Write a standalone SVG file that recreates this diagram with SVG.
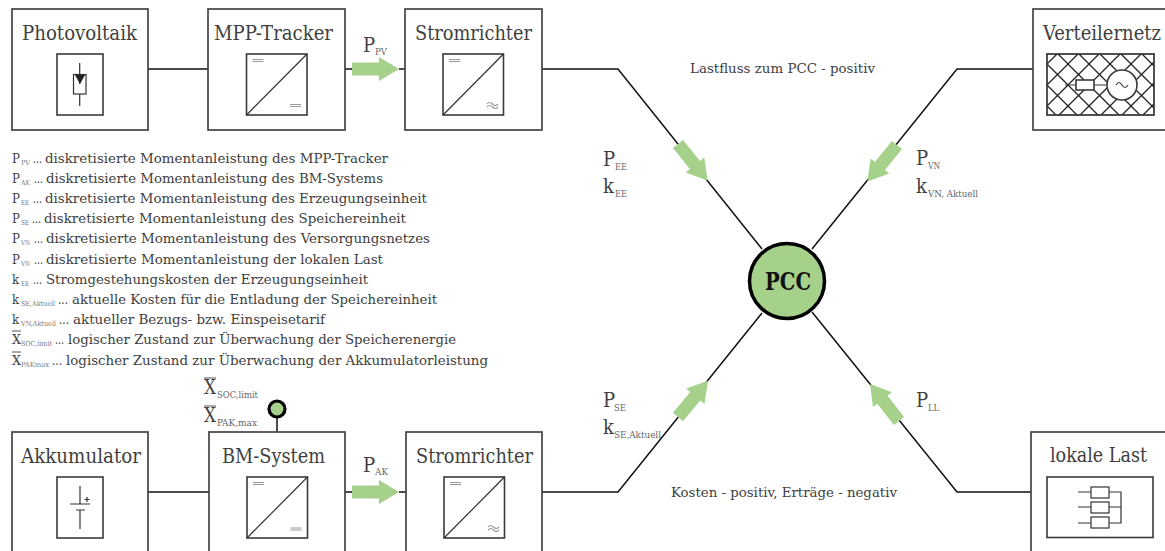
<svg xmlns="http://www.w3.org/2000/svg" width="1165" height="551" viewBox="0 0 1165 551">
<style>
text{font-family:"DejaVu Serif Condensed","DejaVu Serif","Liberation Serif",serif;fill:#404040}
.t{font-size:19.5px}
.l{font-size:13px}
.s{font-size:7px;fill:#777}
.v{font-size:20px}
.vs{font-size:10px;fill:#666}
.box{fill:#fff;stroke:#444;stroke-width:1.7}
.ic{fill:#fff;stroke:#3a3a3a;stroke-width:1.6}
.w{fill:none;stroke:#111;stroke-width:1.5}
.g{fill:none;stroke:#333;stroke-width:1.2}
.a{fill:#a5d18b}
.o{fill:none;stroke:#999;stroke-width:1.2}
.b{stroke:#555;stroke-width:1;fill:none}
</style>
<defs>
<pattern id="hatch" width="21" height="21" patternUnits="userSpaceOnUse" x="-3" y="1">
<path d="M0 0L21 21M21 0L0 21" stroke="#222" stroke-width="1.3"/>
</pattern>
<g id="conv"><rect class="ic" width="60.500" height="61"/><path class="g" d="M0 61L60.500 0" stroke-width="1.500"/><path class="o" d="M6 5.500h11M6 7.500h11"/></g>
<path id="dcb" class="o" d="M0 0h11M0 2h11"/>
<path id="acb" class="o" d="M0 0q2.700 -3 5.500 0t5.500 0M0 3q2.700 -3 5.500 0t5.500 0"/>
<path id="arr" class="a" d="M0 -6.500H27V-12L47 0L27 12V6.500H0Z"/>
</defs>
<g id="connectors">
<path class="w" d="M148 69H208M345 69H352M399 69H405M148 492H209M345 492H352M399 492H406"/>
<path class="w" d="M542 69H618L762 249M1033 69H957L812 249M542 492H618L762 313M1033 492H957L812 312"/>
<path class="w" d="M277 417V432"/>
</g>
<g id="arrows">
<use href="#arr" transform="translate(352 69)"/>
<use href="#arr" transform="translate(352 492)"/>
<use href="#arr" transform="translate(678 144) rotate(51.100)"/>
<use href="#arr" transform="translate(897 145) rotate(129)"/>
<use href="#arr" transform="translate(678 417) rotate(-50.300)"/>
<use href="#arr" transform="translate(899 421) rotate(-127.900)"/>
</g>
<g id="photovoltaik"><rect class="box" x="12" y="9" width="136" height="121"/><text class="t" x="22" y="39.500" textLength="115" lengthAdjust="spacingAndGlyphs">Photovoltaik</text>
<rect class="ic" x="57" y="54" width="46" height="61"/><rect class="g" x="73.500" y="74.500" width="12.500" height="19.500"/><path class="g" d="M79.700 63V84M79.700 94V106"/><path d="M75 75H85L80 84Z" fill="#222"/></g>
<g id="mpp"><rect class="box" x="208" y="9" width="137" height="121"/><text class="t" x="214" y="39.500" textLength="119" lengthAdjust="spacingAndGlyphs">MPP-Tracker</text><use href="#conv" x="246.500" y="54"/><use href="#dcb" x="290" y="104.500"/></g>
<g id="sr1"><rect class="box" x="405" y="9" width="137" height="121"/><text class="t" x="415" y="40" textLength="117" lengthAdjust="spacingAndGlyphs">Stromrichter</text><use href="#conv" x="443" y="54"/><use href="#acb" x="487" y="104"/></g>
<g id="verteilernetz"><rect class="box" x="1033" y="9" width="140" height="121"/><text class="t" x="1043" y="39.500" textLength="118" lengthAdjust="spacingAndGlyphs">Verteilernetz</text>
<rect x="1047" y="54" width="107" height="61" fill="url(#hatch)" stroke="#333" stroke-width="1.700"/><path class="g" d="M1065 85H1076M1094 85H1107"/><rect class="ic" x="1076" y="80" width="18" height="10"/><circle class="ic" cx="1122" cy="85" r="15"/><path class="g" stroke-width="1" d="M1116 85q3 -5 6 0t6 0"/></g>
<g id="akku"><rect class="box" x="12" y="432" width="136" height="125"/><text class="t" x="21" y="463" textLength="120" lengthAdjust="spacingAndGlyphs">Akkumulator</text>
<rect class="ic" x="57" y="477" width="46" height="61"/><path class="g" d="M80 486V504M70 504H90M76 510H85M80 510V529"/><path class="g" d="M84.500 499.500h5M87 497v5"/></g>
<g id="bm"><rect class="box" x="209" y="432" width="136" height="125"/><text class="t" x="222" y="463" textLength="103" lengthAdjust="spacingAndGlyphs">BM-System</text><use href="#conv" x="247" y="477"/><use href="#dcb" x="290.500" y="528"/></g>
<g id="sr2"><rect class="box" x="406" y="432" width="136" height="125"/><text class="t" x="416" y="463" textLength="117" lengthAdjust="spacingAndGlyphs">Stromrichter</text><use href="#conv" x="444" y="477"/><use href="#acb" x="488" y="527"/></g>
<g id="last"><rect class="box" x="1031" y="432" width="142" height="125"/><text class="t" x="1050" y="462" textLength="97" lengthAdjust="spacingAndGlyphs">lokale Last</text>
<rect class="ic" x="1047" y="477" width="106" height="60.500"/><rect class="g" x="1091" y="487" width="18" height="11"/><rect class="g" x="1091" y="502" width="18" height="11"/><rect class="g" x="1091" y="517" width="18" height="11"/><path class="g" d="M1078 492H1091M1078 507H1091M1078 523H1091M1109 492H1121V523H1109M1109 507H1121"/></g>
<g id="pcc"><circle cx="787" cy="281" r="37.500" fill="#a5d18b" stroke="#000" stroke-width="3.500"/><text x="765" y="290" font-size="25" font-weight="bold" style="fill:#111" textLength="46" lengthAdjust="spacingAndGlyphs">PCC</text></g>
<g id="status"><circle cx="277" cy="409" r="8" fill="#a5d18b" stroke="#000" stroke-width="3.200"/></g>
<g id="labels">
<text class="v" x="363" y="52">P</text><text class="vs" x="375" y="55" textLength="12" lengthAdjust="spacingAndGlyphs">PV</text>
<text class="v" x="363" y="472">P</text><text class="vs" x="375" y="475" textLength="13" lengthAdjust="spacingAndGlyphs">AK</text>
<text class="v" x="603" y="166">P</text><text class="vs" x="615" y="170" textLength="12" lengthAdjust="spacingAndGlyphs">EE</text>
<text class="v" x="603" y="193">k</text><text class="vs" x="615" y="197" textLength="12" lengthAdjust="spacingAndGlyphs">EE</text>
<text class="v" x="916" y="165">P</text><text class="vs" x="928" y="169" textLength="12" lengthAdjust="spacingAndGlyphs">VN</text>
<text class="v" x="916" y="193">k</text><text class="vs" x="928" y="197" textLength="50" lengthAdjust="spacingAndGlyphs">VN, Aktuell</text>
<text class="v" x="603" y="407">P</text><text class="vs" x="614" y="411" textLength="12" lengthAdjust="spacingAndGlyphs">SE</text>
<text class="v" x="603" y="434">k</text><text class="vs" x="614" y="438" textLength="47" lengthAdjust="spacingAndGlyphs">SE,Aktuell</text>
<text class="v" x="916" y="407">P</text><text class="vs" x="928" y="411" textLength="11" lengthAdjust="spacingAndGlyphs">LL</text>
<text class="l" x="690" y="73" textLength="185" lengthAdjust="spacingAndGlyphs">Lastfluss zum PCC - positiv</text>
<text class="l" x="671" y="497" textLength="226" lengthAdjust="spacingAndGlyphs">Kosten - positiv, Erträge - negativ</text>
<text class="v" x="204" y="394" textLength="12" lengthAdjust="spacingAndGlyphs">X</text><text class="vs" x="217" y="398" textLength="41" lengthAdjust="spacingAndGlyphs">SOC,limit</text>
<text class="v" x="204" y="422" textLength="12" lengthAdjust="spacingAndGlyphs">X</text><text class="vs" x="217" y="426" textLength="40" lengthAdjust="spacingAndGlyphs">PAK,max</text>
<path class="b" d="M204 378h12M204 406h12"/>
</g>
<g id="legend">
<text class="l" x="12" y="163">P</text><text class="s" x="21" y="165" textLength="9" lengthAdjust="spacingAndGlyphs">PV</text><text class="l" x="33" y="163" textLength="9" lengthAdjust="spacingAndGlyphs">...</text><text class="l" x="45" y="163" textLength="343" lengthAdjust="spacingAndGlyphs">diskretisierte Momentanleistung des MPP-Tracker</text>
<text class="l" x="12" y="183">P</text><text class="s" x="21" y="185" textLength="9" lengthAdjust="spacingAndGlyphs">AK</text><text class="l" x="34" y="183" textLength="9" lengthAdjust="spacingAndGlyphs">...</text><text class="l" x="46" y="183" textLength="337" lengthAdjust="spacingAndGlyphs">diskretisierte Momentanleistung des BM-Systems</text>
<text class="l" x="12" y="203">P</text><text class="s" x="21" y="205" textLength="8" lengthAdjust="spacingAndGlyphs">EE</text><text class="l" x="33" y="203" textLength="9" lengthAdjust="spacingAndGlyphs">...</text><text class="l" x="45" y="203" textLength="382" lengthAdjust="spacingAndGlyphs">diskretisierte Momentanleistung des Erzeugungseinheit</text>
<text class="l" x="12" y="223">P</text><text class="s" x="21" y="225" textLength="8" lengthAdjust="spacingAndGlyphs">SE</text><text class="l" x="32" y="223" textLength="9" lengthAdjust="spacingAndGlyphs">...</text><text class="l" x="44" y="223" textLength="362" lengthAdjust="spacingAndGlyphs">diskretisierte Momentanleistung des Speichereinheit</text>
<text class="l" x="12" y="243">P</text><text class="s" x="21" y="245" textLength="9" lengthAdjust="spacingAndGlyphs">VN</text><text class="l" x="34" y="243" textLength="9" lengthAdjust="spacingAndGlyphs">...</text><text class="l" x="46" y="243" textLength="384" lengthAdjust="spacingAndGlyphs">diskretisierte Momentanleistung des Versorgungsnetzes</text>
<text class="l" x="12" y="264">P</text><text class="s" x="21" y="266" textLength="9" lengthAdjust="spacingAndGlyphs">VN</text><text class="l" x="34" y="264" textLength="9" lengthAdjust="spacingAndGlyphs">...</text><text class="l" x="46" y="264" textLength="337" lengthAdjust="spacingAndGlyphs">diskretisierte Momentanleistung der lokalen Last</text>
<text class="l" x="12" y="284">k</text><text class="s" x="21" y="286" textLength="8" lengthAdjust="spacingAndGlyphs">EE</text><text class="l" x="33" y="284" textLength="9" lengthAdjust="spacingAndGlyphs">...</text><text class="l" x="46" y="284" textLength="322" lengthAdjust="spacingAndGlyphs">Stromgestehungskosten der Erzeugungseinheit</text>
<text class="l" x="12" y="304">k</text><text class="s" x="21" y="306" textLength="34" lengthAdjust="spacingAndGlyphs">SE,Aktuell</text><text class="l" x="58" y="304" textLength="10" lengthAdjust="spacingAndGlyphs">...</text><text class="l" x="72" y="304" textLength="365" lengthAdjust="spacingAndGlyphs">aktuelle Kosten für die Entladung der Speichereinheit</text>
<text class="l" x="12" y="324">k</text><text class="s" x="21" y="326" textLength="35" lengthAdjust="spacingAndGlyphs">VN,Aktuell</text><text class="l" x="59" y="324" textLength="10" lengthAdjust="spacingAndGlyphs">...</text><text class="l" x="73" y="324" textLength="252" lengthAdjust="spacingAndGlyphs">aktueller Bezugs- bzw. Einspeisetarif</text>
<text class="l" x="12" y="344" textLength="9" lengthAdjust="spacingAndGlyphs">X</text><text class="s" x="21" y="346" textLength="31" lengthAdjust="spacingAndGlyphs">SOC,limit</text><text class="l" x="55" y="344" textLength="9" lengthAdjust="spacingAndGlyphs">...</text><text class="l" x="68" y="344" textLength="388" lengthAdjust="spacingAndGlyphs">logischer Zustand zur Überwachung der Speicherenergie</text>
<text class="l" x="12" y="365" textLength="9" lengthAdjust="spacingAndGlyphs">X</text><text class="s" x="21" y="367" textLength="28" lengthAdjust="spacingAndGlyphs">PAKmax</text><text class="l" x="52" y="365" textLength="10" lengthAdjust="spacingAndGlyphs">...</text><text class="l" x="66" y="365" textLength="422" lengthAdjust="spacingAndGlyphs">logischer Zustand zur Überwachung der Akkumulatorleistung</text>
<path class="b" d="M12 331h9M12 352h9"/>
</g>
</svg>
